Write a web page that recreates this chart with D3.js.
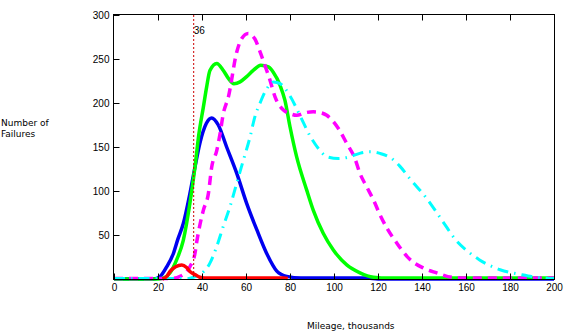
<!DOCTYPE html>
<html><head><meta charset="utf-8">
<script src="https://cdn.jsdelivr.net/npm/d3@7"></script>
<style>body{margin:0;background:#fff}svg{display:block}</style>
</head><body>
<svg id="c" width="575" height="331"></svg>
<script>
// ---- data ----
const xTicks = [0,20,40,60,80,100,120,140,160,180,200];
const yTicks = [50,100,150,200,250,300];
const markerMileage = 36;

const blueX = [0,18,21,24,27,29,31.5,34.5,36.8,39,42,44.4,47.4,51.2,55.8,60.3,64.9,69.4,74,78.5,85,115,120,200];
const blueY = [0,0,3,14,29,45,63,97,127,154,177,183,175,150,120,86,56,29,9,3,1,1,0,0];

const greenX = [0,20,22.4,25.5,28.5,31.5,34.5,36.8,38.6,40.6,42.1,43.6,46.7,49.7,52,54.5,57.3,60.3,63.3,66.7,70.2,72.4,75.5,77.7,80,83,87.6,90.6,95.1,99.7,105.8,111.8,117.9,125,200];
const greenY = [0,0,1,7,22,44,86,127,165,195,218,237,245,237,228,222,224,230,237,243,241,235,220,203,173,139,101,78,52,33,16,7,2,1,1];

const magentaX = [0,26,30,34.5,36.8,37.6,40.6,42.9,44.4,46.7,48.2,49.7,52,55.8,58,61,64,66.4,69.4,70.9,73.2,77,80,83,87,90.6,94,96.7,102,105.8,109.5,111.8,114.8,117.9,120.9,124,128.5,133.8,140.6,146.7,153.5,160,200];
const magentaY = [0.5,0.5,3,14,29,42,78,97,127,146,165,188,207,258,273,279,273,258,237,226,207,192,188,186,189,190,189,186,171,154,137,120,105,90,73,58,41,24,12.5,7,2,1,1];

const cyanX = [0,34,36,39,43.6,46.7,49.7,52.7,55.8,58.8,61.8,64,66.4,69.4,72.5,75.5,80,84.5,89,93,96.7,102,107.3,112,116.4,120.9,126.2,130,134.5,142,149,155.8,161,166,175.5,185,195,200];
const cyanY = [0.5,0.5,2,5,18,37,60,82,109,135,161,184,200,216,224,222,208,186,163,148,139,137,139,143,144.5,142.7,137,128,114,92,67,43,31,22,10.5,5,1,0.5];

const redX = [22,24,25.5,28,30.8,33,34.5,36.8,39,41,45,77,79];
const redY = [0,3,8.6,14,16,13,8.6,5,2,1,1,1,0.5];

const seriesList = [
  {name:"blue", xs:blueX, ys:blueY, color:"#0000f0", dash:null, w:3.5},
  {name:"green", xs:greenX, ys:greenY, color:"#00ff00", dash:null, w:3.5},
  {name:"magenta", xs:magentaX, ys:magentaY, color:"#ff00ff", dash:"9,6", w:3.5},
  {name:"cyan", xs:cyanX, ys:cyanY, color:"#00ffff", dash:"11,6,1.5,6", w:3},
  {name:"red", xs:redX, ys:redY, color:"#ff0000", dash:null, w:3.5}
];

// ---- chart ----
const svg = d3.select("#c");
const L = 114, R = 554, T = 15, B = 279;
const x = d3.scaleLinear().domain([0,200]).range([L,R]);
const y = d3.scaleLinear().domain([0,300]).range([B,T]);
const tickFont = "'Liberation Sans', Arial, sans-serif";

const line = d3.line().x(d=>x(d[0])).y(d=>y(d[1])).curve(d3.curveMonotoneX);

svg.append("g").selectAll("path").data(seriesList).join("path")
  .attr("d", s => line(s.xs.map((v,i)=>[v, s.ys[i]])))
  .attr("fill","none")
  .attr("stroke", s=>s.color)
  .attr("stroke-width", s=>s.w)
  .attr("stroke-dasharray", s=>s.dash)
  .attr("stroke-linejoin","round");

// marker line
svg.append("line")
  .attr("x1", x(markerMileage)+0.5).attr("x2", x(markerMileage)+0.5)
  .attr("y1", T).attr("y2", B)
  .attr("stroke","#cc0000").attr("stroke-width",1).attr("stroke-dasharray","2,2");
svg.append("text").attr("x", x(markerMileage)+0.5).attr("y", 34)
  .attr("font-family", tickFont).attr("font-size", 10).text(markerMileage);

// frame
svg.append("rect").attr("x", L-0.5).attr("y", T-0.5).attr("width", R-L+1).attr("height", B-T+1)
  .attr("fill","none").attr("stroke","#000").attr("stroke-width",1);

// x axis (bottom, inner ticks)
const xb = svg.append("g").attr("transform", `translate(0,${B+0.5})`)
  .call(d3.axisBottom(x).tickValues(xTicks).tickSizeInner(-6).tickSizeOuter(0).tickPadding(4));
xb.select(".domain").remove();
xb.selectAll("text").attr("font-family", tickFont).attr("font-size", 10).attr("fill","#000");
xb.selectAll("line").attr("stroke","#000");

// top ticks
const xt = svg.append("g").attr("transform", `translate(0,${T-0.5})`)
  .call(d3.axisTop(x).tickValues(xTicks.slice(1,-1)).tickSizeInner(-6).tickSizeOuter(0).tickFormat(""));
xt.select(".domain").remove();
xt.selectAll("line").attr("stroke","#000");

// y axis
const yl = svg.append("g").attr("transform", `translate(${L-0.5},0)`)
  .call(d3.axisLeft(y).tickValues(yTicks).tickSizeInner(-6).tickSizeOuter(0).tickPadding(4));
yl.select(".domain").remove();
yl.selectAll("text").attr("font-family", tickFont).attr("font-size", 10).attr("fill","#000");
yl.selectAll("line").attr("stroke","#000");

// titles
const titleFont = "'DejaVu Sans', Verdana, sans-serif";
svg.append("text").attr("x",1).attr("y",126).attr("font-family",titleFont).attr("font-size",9).text("Number of");
svg.append("text").attr("x",1).attr("y",137).attr("font-family",titleFont).attr("font-size",9).text("Failures");
svg.append("text").attr("x",307).attr("y",329).attr("font-family",titleFont).attr("font-size",9).text("Mileage, thousands");
</script>
</body></html>
